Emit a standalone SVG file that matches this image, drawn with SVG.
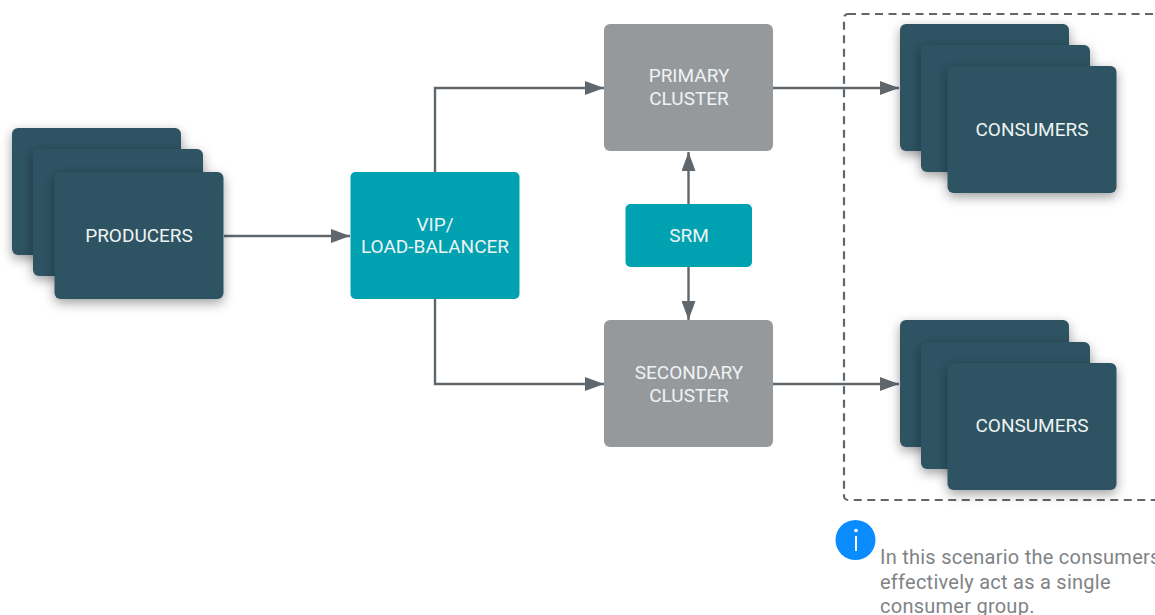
<svg xmlns="http://www.w3.org/2000/svg" width="1155" height="615" viewBox="0 0 1155 615">
<style>
.card{fill:#2e5362;filter:url(#sh)}
.teal{fill:#00a2b1}
.gray{fill:#95999c}
.lbl{font-family:Roboto,"Liberation Sans",sans-serif;font-size:19px;fill:#eef3f4;text-anchor:middle}
.note{font-family:Roboto,"Liberation Sans",sans-serif;font-size:20px;fill:#808386;letter-spacing:.25px}
.conn{fill:none;stroke:#5f676c;stroke-width:2.400}
</style>
<defs>
<filter id="sh" x="-20%" y="-20%" width="140%" height="140%"><feDropShadow dx="0" dy="4" stdDeviation="6" flood-color="#000" flood-opacity=".38"/></filter>
<marker id="a" markerUnits="userSpaceOnUse" markerWidth="20" markerHeight="14" refX="19" refY="7" orient="auto"><path d="M0 0L19 7L0 14Z" fill="#5f676c"/></marker>
</defs>
<rect x="844" y="14" width="330" height="486" rx="4" fill="none" stroke="#5f676c" stroke-width="2.200" stroke-dasharray="8 5.500"/>
<g id="connectors">
<path class="conn" marker-end="url(#a)" d="M224 236H350"/>
<path class="conn" marker-end="url(#a)" d="M435 172V88H604"/>
<path class="conn" marker-end="url(#a)" d="M435 299V384H604"/>
<path class="conn" marker-end="url(#a)" d="M773 88H899"/>
<path class="conn" marker-end="url(#a)" d="M773 384H899"/>
<path class="conn" marker-end="url(#a)" d="M688.500 204V152"/>
<path class="conn" marker-end="url(#a)" d="M688.500 267V320"/>
</g>
<g id="producers">
<rect class="card" x="12" y="128" width="169" height="127" rx="6"/>
<rect class="card" x="33" y="149" width="170" height="127" rx="6"/>
<rect class="card" x="54.500" y="172" width="169" height="127" rx="6"/>
<text class="lbl" x="139" y="242">PRODUCERS</text>
</g>
<g id="vip">
<rect class="teal" x="350.500" y="172" width="169" height="127" rx="5"/>
<text class="lbl"><tspan x="435" y="231">VIP/</tspan><tspan x="435" y="253">LOAD-BALANCER</tspan></text>
</g>
<g id="primary">
<rect class="gray" x="604" y="24" width="169" height="127" rx="6"/>
<text class="lbl"><tspan x="689" y="82">PRIMARY</tspan><tspan x="689" y="104.500">CLUSTER</tspan></text>
</g>
<g id="srm">
<rect class="teal" x="625.500" y="204" width="126.500" height="63" rx="5"/>
<text class="lbl" x="689" y="242">SRM</text>
</g>
<g id="secondary">
<rect class="gray" x="604" y="320" width="169" height="127" rx="6"/>
<text class="lbl"><tspan x="689" y="379">SECONDARY</tspan><tspan x="689" y="401.500">CLUSTER</tspan></text>
</g>
<g id="consumers1">
<rect class="card" x="900" y="24" width="169" height="127" rx="6"/>
<rect class="card" x="921" y="45" width="169" height="127" rx="6"/>
<rect class="card" x="947.500" y="66" width="169" height="127" rx="6"/>
<text class="lbl" x="1032" y="136">CONSUMERS</text>
</g>
<g id="consumers2">
<rect class="card" x="900" y="320" width="169" height="127" rx="6"/>
<rect class="card" x="921" y="342" width="169" height="127" rx="6"/>
<rect class="card" x="947.500" y="363" width="169" height="127" rx="6"/>
<text class="lbl" x="1032" y="432">CONSUMERS</text>
</g>
<g id="info">
<circle cx="855.500" cy="540" r="20" fill="#0a8cff"/>
<circle cx="856" cy="530.500" r="1.800" fill="#fff"/>
<path d="M856 536V551" stroke="#fff" stroke-width="2"/>
<text class="note"><tspan x="880" y="564">In this scenario the consumers</tspan><tspan x="880" y="589">effectively act as a single</tspan><tspan x="880" y="613">consumer group.</tspan></text>
</g>
</svg>
